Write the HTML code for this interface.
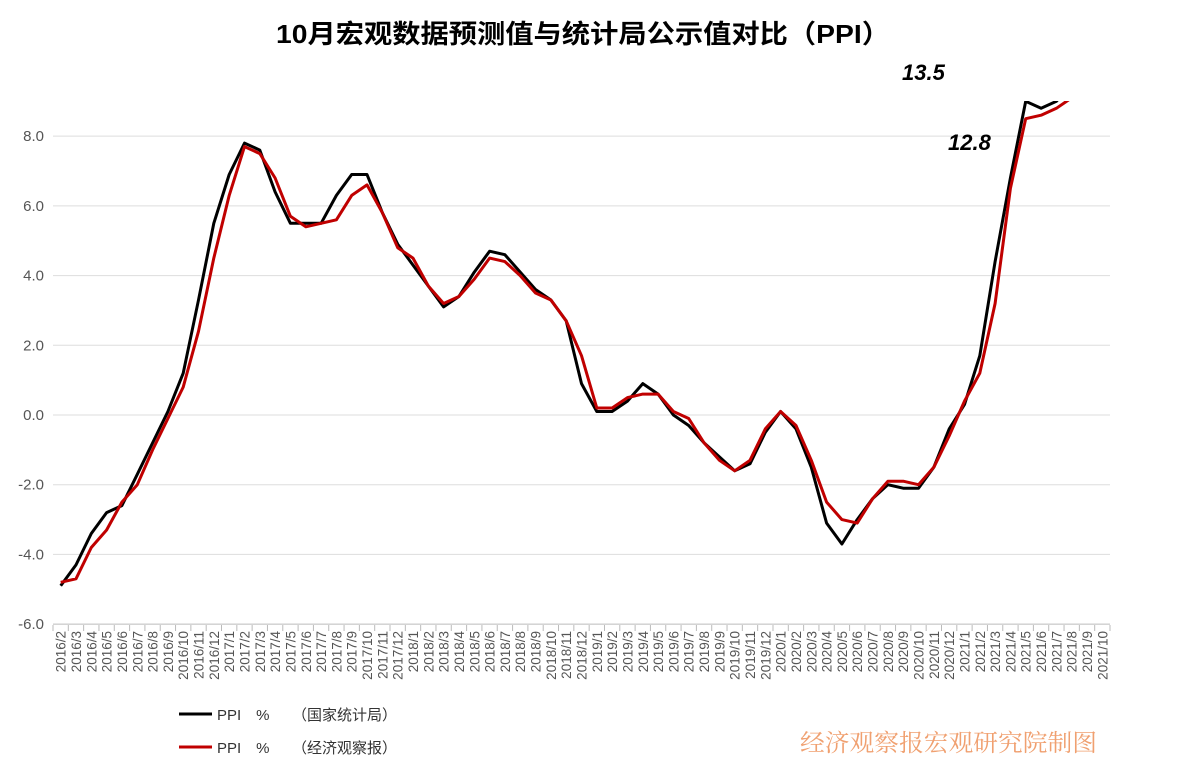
<!DOCTYPE html>
<html><head><meta charset="utf-8"><style>
body{margin:0;background:#fff;}
svg{display:block;font-family:"Liberation Sans","Noto Sans CJK SC",sans-serif;}
</style></head><body>
<svg id="s" width="1182" height="780" viewBox="0 0 1182 780">
<text x="276" y="43" textLength="614" lengthAdjust="spacingAndGlyphs" font-size="26" font-weight="bold" fill="#000">10月宏观数据预测值与统计局公示值对比（PPI）</text>
<g id="grid"></g>
<g id="lbl"></g>
<defs><clipPath id="c"><rect x="40" y="101" width="1080" height="560"/></clipPath></defs>
<g clip-path="url(#c)">
<polyline id="blk" fill="none" stroke="#000" stroke-width="3" stroke-linejoin="round"/>
<polyline id="red" fill="none" stroke="#c00000" stroke-width="3" stroke-linejoin="round"/>
</g>
<text x="902" y="80" font-size="22" font-weight="bold" font-style="italic">13.5</text>
<text x="948" y="150" font-size="22" font-weight="bold" font-style="italic">12.8</text>
<line x1="179" y1="714" x2="212" y2="714" stroke="#000" stroke-width="3"/>
<text x="217" y="720" font-size="15" fill="#333">PPI　%　　（国家统计局）</text>
<line x1="179" y1="747" x2="212" y2="747" stroke="#c00000" stroke-width="3"/>
<text x="217" y="753" font-size="15" fill="#333">PPI　%　　（经济观察报）</text>
<text x="800" y="751" textLength="297" lengthAdjust="spacingAndGlyphs" font-size="24" fill="#f0a070" font-family="'Noto Serif CJK SC',serif">经济观察报宏观研究院制图</text>
</svg>
<script>
var ns="http://www.w3.org/2000/svg";
function Y(v){return 415-v*34.857;}
var g=document.getElementById('grid'),L=document.getElementById('lbl');
function el(p,t,a,txt){var e=document.createElementNS(ns,t);for(var k in a)e.setAttribute(k,a[k]);if(txt)e.textContent=txt;p.appendChild(e);return e;}
for(var v=8;v>=-6;v-=2){var y=Y(v);
 if(v>-6)el(g,'line',{x1:53,x2:1110,y1:y,y2:y,stroke:'#ddd','stroke-width':1});
 else el(g,'line',{x1:53,x2:1110,y1:y,y2:y,stroke:'#bbb','stroke-width':1});
 el(L,'text',{x:44,y:y+5,'text-anchor':'end','font-size':15,fill:'#555'},v.toFixed(1));}
var step=1057/69,labels=[];
for(var yr=2016,m=2;labels.length<69;){labels.push(yr+'/'+m);m++;if(m>12){m=1;yr++;}}
for(var i=0;i<=69;i++){var x=53+i*step;el(g,'line',{x1:x,x2:x,y1:625,y2:631,stroke:'#bbb'});}
labels.forEach(function(t,i){var x=53+step*(i+0.5)+5;el(L,'text',{transform:'translate('+x+',631) rotate(-90)','text-anchor':'end','font-size':13.5,fill:'#555'},t);});
var b=[-4.9,-4.3,-3.4,-2.8,-2.6,-1.7,-0.8,0.1,1.2,3.3,5.5,6.9,7.8,7.6,6.4,5.5,5.5,5.5,6.3,6.9,6.9,5.8,4.9,4.3,3.7,3.1,3.4,4.1,4.7,4.6,4.1,3.6,3.3,2.7,0.9,0.1,0.1,0.4,0.9,0.6,0.0,-0.3,-0.8,-1.2,-1.6,-1.4,-0.5,0.1,-0.4,-1.5,-3.1,-3.7,-3.0,-2.4,-2.0,-2.1,-2.1,-1.5,-0.4,0.3,1.7,4.4,6.8,9.0,8.8,9.0,9.5,10.7,13.5];
var r=[-4.8,-4.7,-3.8,-3.3,-2.5,-2.0,-1.0,-0.1,0.8,2.4,4.5,6.3,7.7,7.5,6.8,5.7,5.4,5.5,5.6,6.3,6.6,5.8,4.8,4.5,3.7,3.2,3.4,3.9,4.5,4.4,4.0,3.5,3.3,2.7,1.7,0.2,0.2,0.5,0.6,0.6,0.1,-0.1,-0.8,-1.3,-1.6,-1.3,-0.4,0.1,-0.3,-1.3,-2.5,-3.0,-3.1,-2.4,-1.9,-1.9,-2.0,-1.5,-0.6,0.4,1.2,3.2,6.5,8.5,8.6,8.8,9.1,10.5,12.8];
function pts(a){return a.map(function(v,i){return (53+step*(i+0.5)).toFixed(1)+','+Y(v).toFixed(1);}).join(' ');}
document.getElementById('blk').setAttribute('points',pts(b));
document.getElementById('red').setAttribute('points',pts(r));
</script>
</body></html>
